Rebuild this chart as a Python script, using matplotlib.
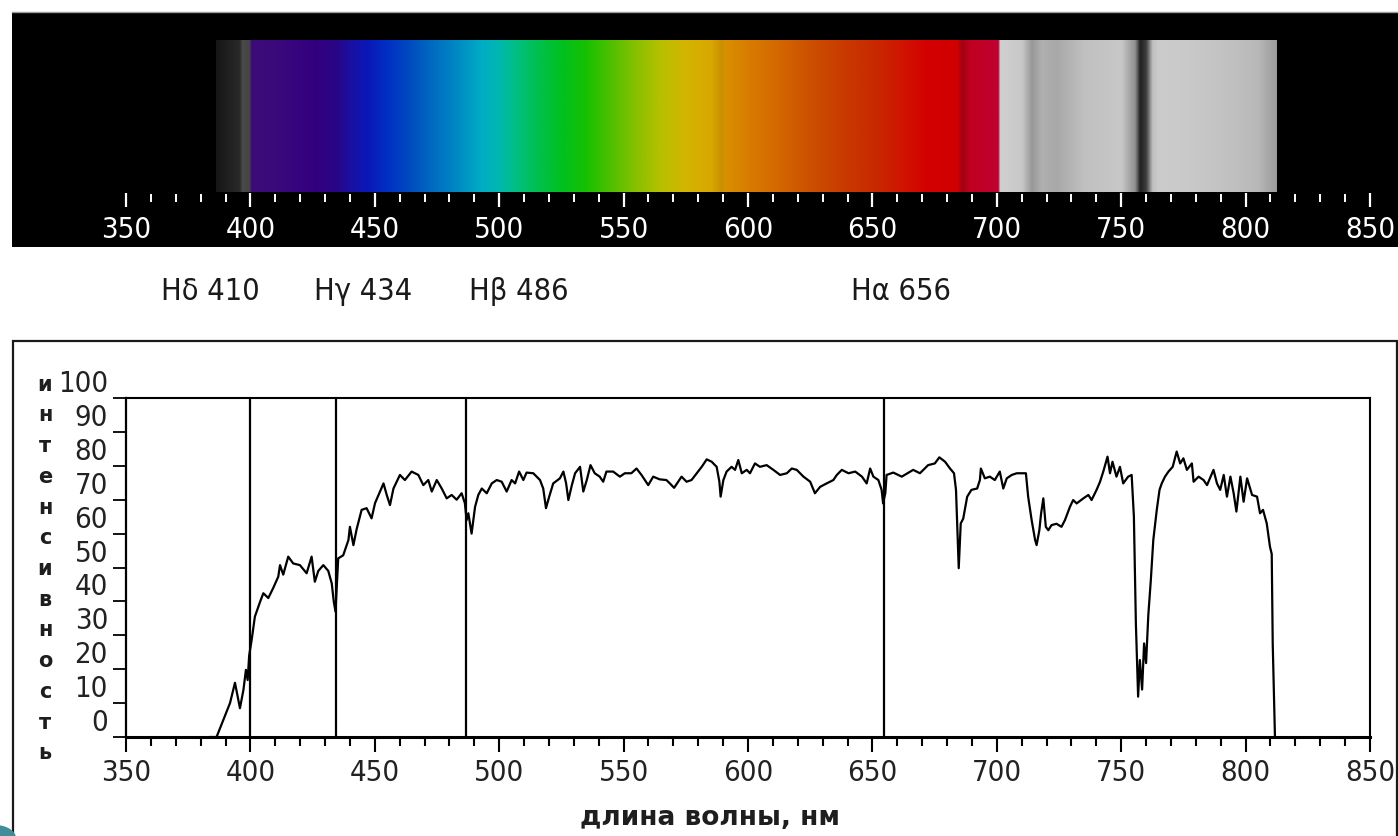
import os
import numpy as np
import matplotlib
matplotlib.use("Agg")
import matplotlib.pyplot as plt
from matplotlib import font_manager as fm
from matplotlib.font_manager import FontProperties
from matplotlib.patches import Rectangle, Circle
from matplotlib.ticker import MultipleLocator
from matplotlib.colors import to_rgb

# ---------------- data ----------------
wavelength_nm = [384, 386.4, 389.1, 391.8, 393.8, 395.8, 397.2, 398.2, 398.9, 399.5,
                 400.5, 401.8, 403.9, 405.2, 407.2, 409.2, 411.2, 411.9, 413.2, 415.2,
                 417.2, 419.9, 422.6, 424.6, 425.9, 427.3, 429.3, 431.3, 432.7, 433.5,
                 434.2, 435.3, 437.3, 439.4, 440.0, 441.4, 442.7, 444.7, 446.7, 448.7,
                 450.1, 452.1, 453.5, 454.8, 456.1, 457.5, 460.1, 462.1, 464.8, 467.5,
                 469.5, 471.5, 472.9, 474.9, 476.9, 478.9, 480.9, 482.9, 484.9, 486.2,
                 486.9, 487.6, 488.9, 490.3, 491.6, 493.0, 495.0, 497.0, 499.0, 501.0,
                 503.0, 505.0, 506.4, 508.0, 509.7, 511.0, 513.7, 516.4, 517.7, 518.8,
                 520.1, 521.7, 524.4, 525.8, 526.9, 527.8, 529.2, 530.5, 532.5, 533.8,
                 535.2, 536.7, 538.4, 540.4, 541.8, 543.1, 545.8, 548.5, 550.5, 553.1,
                 555.2, 557.2, 559.9, 561.9, 564.5, 567.2, 568.6, 570.3, 573.3, 575.3,
                 577.3, 579.4, 581.4, 583.4, 585.4, 587.4, 588.5, 589.0, 590.1, 591.4,
                 593.4, 594.8, 596.1, 597.5, 599.5, 600.8, 602.8, 604.8, 607.5, 610.2,
                 612.9, 615.6, 617.6, 619.6, 622.3, 625.0, 626.9, 629.0, 631.6, 634.3,
                 635.7, 637.7, 640.4, 643.1, 645.8, 647.7, 649.1, 650.4, 652.4, 653.7,
                 654.3, 655.2, 655.7, 658.4, 661.8, 666.4, 669.1, 672.4, 675.1, 676.9,
                 679.2, 681.2, 682.8, 683.6, 684.2, 684.7, 685.5, 686.5, 688.1, 689.8,
                 692.1, 693.2, 693.6, 695.2, 697.2, 699.2, 701.2, 702.6, 704.0, 706.0,
                 708.0, 711.7, 712.6, 714.0, 715.4, 716.0, 717.1, 717.8, 718.7, 719.7,
                 720.7, 722.0, 724.0, 726.0, 727.4, 729.4, 730.7, 732.1, 734.8, 736.8,
                 738.1, 740.1, 741.5, 742.8, 744.5, 745.5, 746.5, 748.1, 749.5, 750.8,
                 752.8, 754.2, 755.1, 755.9, 756.8, 757.5, 758.4, 759.2, 760.0, 760.9,
                 761.9, 762.9, 764.3, 765.4, 766.3, 767.6, 769.0, 770.7, 772.3, 773.7,
                 775.0, 776.4, 778.4, 779.1, 781.1, 783.1, 784.5, 787.1, 788.5, 789.8,
                 791.2, 792.5, 793.9, 795.2, 796.3, 797.9, 799.2, 800.6, 802.6, 804.6,
                 805.8, 807.0, 808.5, 809.8, 810.5, 810.9, 811.8]
intensity = [0, 0, 5, 10, 16, 8.5, 13.9, 19.8, 16.8, 24,
             28.6, 35.5, 39.9, 42.4, 41, 44, 47.3, 50.7, 47.9, 53.2,
             51.2, 50.7, 48.3, 53.2, 45.8, 49, 50.7, 49, 45.3, 40,
             37, 52.7, 53.6, 58.1, 62, 56.6, 61.3, 67, 67.5, 64.5,
             69, 72.4, 74.8, 71.4, 68.4, 73.3, 77.3, 75.8, 78.3, 77.3,
             74.3, 75.8, 72.4, 75.8, 73.3, 70.4, 71.4, 70, 71.9, 69,
             64, 66, 60, 67.9, 71.4, 73.3, 71.9, 74.8, 75.8, 75.3,
             72.4, 75.8, 74.8, 78.3, 75.8, 78, 77.8, 75.8, 73.3, 67.5,
             70.9, 74.8, 76.3, 78.3, 74.8, 69.9, 74.3, 77.8, 79.7, 72.4,
             75.8, 80.2, 77.8, 76.8, 75.3, 78.3, 78.3, 76.8, 77.8, 77.8,
             79.2, 77.3, 74.3, 76.8, 76, 75.8, 74.8, 73.5, 76.8, 75.3,
             75.8, 77.8, 79.7, 81.9, 81.2, 79.7, 75.3, 70.9, 75.8, 78.3,
             79.7, 78.8, 81.7, 77.8, 78.8, 77.8, 80.7, 79.7, 80.2, 78.8,
             77.3, 77.8, 79.2, 78.8, 76.8, 75.3, 71.9, 73.8, 74.8, 75.8,
             77.3, 78.8, 77.8, 78.3, 76.8, 74.8, 79.2, 76.8, 75.8, 72.9,
             68.9, 72, 77.3, 78, 76.8, 78.8, 77.8, 80.2, 80.7, 82.5,
             81.2, 79.2, 77.8, 72.9, 60, 49.8, 63, 64.4, 70.9, 72.9,
             73.3, 75.8, 79.2, 76.3, 76.8, 75.8, 78.3, 73.3, 76.3, 77.3,
             77.8, 77.8, 70.9, 64, 58.1, 56.6, 61, 65.9, 70.4, 62,
             61, 62.5, 62.9, 62, 64, 67.9, 69.9, 68.9, 70.4, 71.4,
             69.9, 72.9, 75.3, 78.3, 82.7, 77.8, 81.2, 76.8, 79.7, 74.8,
             76.8, 77.3, 65, 33.5, 11.9, 22.7, 14, 27.6, 21.8, 36,
             46.2, 58.1, 67, 72.9, 74.8, 76.8, 78.3, 79.7, 84.2, 80.7,
             82.2, 78.8, 80.7, 75.3, 76.8, 75.8, 74.3, 78.8, 74.8, 72.9,
             77.3, 70.9, 76.8, 71.9, 66.5, 76.8, 69.4, 76.3, 71.4, 70.9,
             66, 67, 63, 56.1, 54, 27.6, 0]

line_positions_nm = [399.7, 434.3, 486.6, 654.8]
line_labels = ["Hδ 410", "Hγ 434", "Hβ 486", "Hα 656"]
x_ticks = [350, 400, 450, 500, 550, 600, 650, 700, 750, 800, 850]
x_tick_labels = ["350", "400", "450", "500", "550", "600", "650", "700", "750", "800", "850"]
y_ticks = [0, 10, 20, 30, 40, 50, 60, 70, 80, 90, 100]
y_tick_labels = ["0", "10", "20", "30", "40", "50", "60", "70", "80", "90", "100"]
x_label = "длина волны, нм"
y_label = "интенсивность"

spec_nm = [386, 395.5, 396.5, 399.5, 400.2, 410, 425, 434, 440, 447,
           455, 463, 472, 480, 487, 493, 500, 507, 515, 525,
           535, 545, 555, 565, 575, 585, 589.3, 590.5, 600, 612,
           625, 640, 652, 662, 672, 684, 686, 689, 700.5, 701.2,
           710, 714, 718, 724, 735, 750, 755.5, 757.5, 760, 762.5,
           765, 780, 795, 805, 812.5]
spec_colors = ["#161616", "#2a2a2a", "#4a4a4a", "#444444", "#3c0c78", "#3a0a7c", "#33007f", "#2a0585", "#1a10a0", "#0a18b8",
               "#0030c4", "#0048c0", "#0068c0", "#0080c4", "#0098c4", "#00adc4", "#00b8b0", "#00bf80", "#00c050", "#00c020",
               "#18c000", "#50c000", "#88c000", "#b8c000", "#d4b400", "#d8a800", "#c89000", "#d89000", "#d87c00", "#d46800",
               "#cc5000", "#c83800", "#c82800", "#d01400", "#d40000", "#d00000", "#a00014", "#c00020", "#c00030", "#d0d0d0",
               "#c8c8c8", "#989898", "#b0b0b0", "#a8a8a8", "#c0c0c0", "#c8c8c8", "#909090", "#202020", "#404040", "#c0c0c0",
               "#cccccc", "#c8c8c8", "#c0c0c0", "#b8b8b8", "#9a9a9a"]

# ---------------- fonts ----------------
def pick_narrow_font():
    bases = ("liberation sans", "noto sans", "roboto", "open sans", "dejavu sans", "lato", "inter")
    ranked = []
    for f in fm.fontManager.ttflist:
        nm = f.name.lower()
        p = os.path.basename(f.fname).lower().replace("-", "").replace("_", "")
        if f.style != "normal":
            continue
        if any(k in p for k in ("italic", "bold", "light", "medium", "thin", "black", "mono", "oblique", "semib", "extrab")):
            continue
        try:
            wt = int(f.weight)
        except (TypeError, ValueError):
            wt = 400 if str(f.weight) in ("normal", "regular", "book") else 700
        if wt != 400:
            continue
        base = nm
        for s in (" narrow", " extracondensed", " extra condensed", " semicondensed", " semi condensed", " condensed"):
            base = base.replace(s, "")
        if base.strip() not in bases:
            continue
        rank = None
        if "liberation" in nm and "narrow" in (nm + p):
            rank = 0
        elif "extracondensed" in p and "semi" not in p:
            rank = 1
        elif "narrow" in nm or "narrow" in p:
            rank = 2
        elif ("condensed" in nm or "condensed" in p) and "semi" not in p:
            rank = 3
        elif str(f.stretch) in ("condensed", "extra-condensed"):
            rank = 3
        if rank is not None:
            ranked.append((rank, f.fname))
    ranked.sort()
    return ranked[0][1] if ranked else None

narrow_path = pick_narrow_font()
scale = 1.0 if narrow_path else 0.78

def nfont(size):
    if narrow_path:
        return FontProperties(fname=narrow_path, size=size)
    return FontProperties(family="DejaVu Sans", size=size * scale)

# ---------------- figure ----------------
W, H = 1398, 836
fig = plt.figure(figsize=(W / 100, H / 100), dpi=100)
fig.patch.set_facecolor("white")

def fx(px):
    return px / W

def fy(py):
    return 1 - py / H

PX350, PXPERNM = 126.0, 1244.0 / 500.0

def px2nm(px):
    return 350 + (px - PX350) / PXPERNM

# ---------- top spectrum panel ----------
box_l, box_t, box_b = 12, 12, 247
ax_top = fig.add_axes([fx(box_l), fy(box_b), fx(W - box_l), (box_b - box_t) / H])
ax_top.set_facecolor("black")
ax_top.set_xlim(px2nm(box_l), px2nm(W))
ax_top.set_ylim(0, box_b - box_t)
ax_top.set_xticks([])
ax_top.set_yticks([])
for sp in ax_top.spines.values():
    sp.set_visible(False)
ax_top.spines["top"].set_visible(True)
ax_top.spines["top"].set_color("#9a9a9a")
ax_top.spines["top"].set_linewidth(1.0)

lam = np.arange(spec_nm[0], spec_nm[-1], 0.2)
rgb_stops = np.array([to_rgb(c) for c in spec_colors])
img = np.stack([np.interp(lam, spec_nm, rgb_stops[:, k]) for k in range(3)], axis=-1)
ax_top.imshow(img[np.newaxis, :, :], extent=[lam[0], lam[-1], box_b - 192, box_b - 40],
              aspect="auto", interpolation="bilinear", zorder=1)

minor_nm = np.arange(350, 851, 10)
for n in minor_nm:
    if n % 50 == 0:
        ax_top.vlines(n, box_b - 207, box_b - 193, color="white", lw=1.6, zorder=3)
    else:
        ax_top.vlines(n, box_b - 202, box_b - 194, color="white", lw=1.4, zorder=3)
for t, lab in zip(x_ticks, x_tick_labels):
    ax_top.text(t, box_b - 230, lab, color="white", ha="center", va="center",
                fontproperties=nfont(21), zorder=3)

# ---------- labels of Balmer lines ----------
label_px = [210, 363, 519, 901]
for lab, px in zip(line_labels, label_px):
    fig.text(fx(px), fy(292), lab, ha="center", va="center", color="#1a1a1a",
             fontproperties=nfont(22))

# ---------- outer frame of lower panel ----------
fig.patches.append(Rectangle((fx(13), fy(845)), fx(1397) - fx(13), fy(341) - fy(845),
                             transform=fig.transFigure, fill=False, edgecolor="#1a1a1a",
                             lw=1.6, zorder=0))
fig.patches.append(Circle((fx(-6), fy(838)), 22 / W, transform=fig.transFigure,
                          facecolor="#3f8d9c", edgecolor="none", zorder=1))

# ---------- lower intensity plot ----------
ax = fig.add_axes([fx(126), fy(737), 1244 / W, (737 - 398) / H])
ax.set_xlim(350, 850)
ax.set_ylim(0, 100)
ax.plot(wavelength_nm, intensity, color="black", lw=1.6, zorder=3, clip_on=False)
ax.vlines(line_positions_nm, 0, 100, color="black", lw=1.6, zorder=2)

for side in ("top", "right"):
    ax.spines[side].set_linewidth(1.5)
ax.spines["left"].set_linewidth(1.6)
ax.spines["bottom"].set_linewidth(2.2)
for sp in ax.spines.values():
    sp.set_color("black")

ax.set_xticks(x_ticks)
ax.set_xticklabels(x_tick_labels, fontproperties=nfont(21), color="#222222")
ax.xaxis.set_minor_locator(MultipleLocator(10))
ax.tick_params(axis="x", which="major", direction="out", length=11, width=1.5, pad=5)
ax.tick_params(axis="x", which="minor", direction="out", length=6.5, width=1.5)

ax.set_yticks(y_ticks)
ylabs = ax.set_yticklabels(y_tick_labels, fontproperties=nfont(21), color="#222222")
for t in ylabs:
    t.set_verticalalignment("bottom")
ax.tick_params(axis="y", which="major", direction="out", length=9.5, width=1.3, pad=3.5)

fig.text(fx(710), fy(818), x_label, ha="center", va="center", fontsize=19,
         fontweight="bold", family="DejaVu Sans", color="#1e1e1e")

fig.text(fx(45), fy(569), "\n".join(y_label), ha="center", va="center",
         fontsize=15, fontweight="bold", family="DejaVu Sans", color="#1e1e1e",
         linespacing=1.67, multialignment="center")

fig.savefig("out.png", dpi=100, facecolor="white")
